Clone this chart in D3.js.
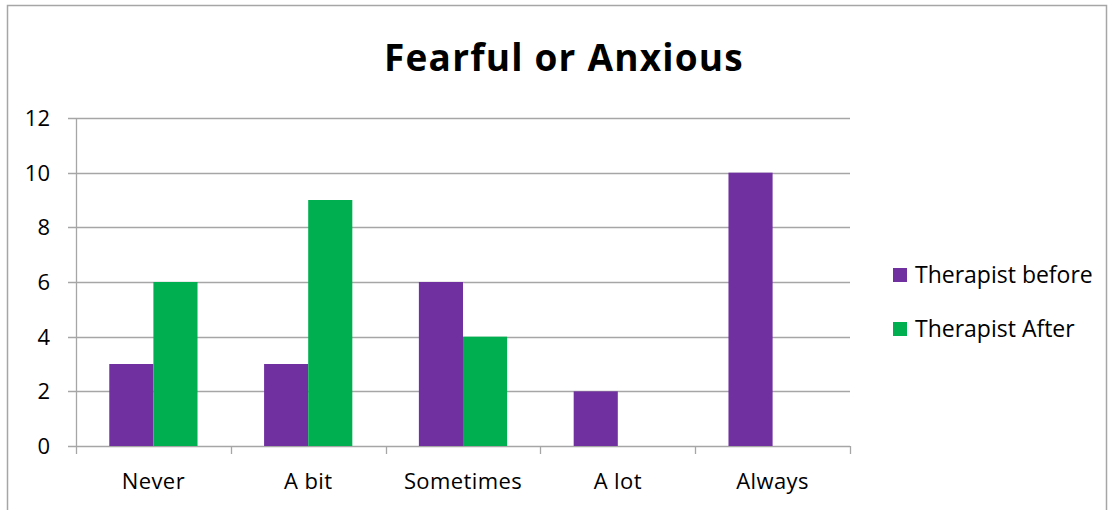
<!DOCTYPE html>
<html>
<head>
<meta charset="utf-8">
<script src="https://cdn.jsdelivr.net/npm/d3@7"></script>
<style>
  body { margin: 0; background: #fff; }
  svg text { font-family: "Open Sans", Lato, sans-serif; fill: #000; }
</style>
</head>
<body>
<div id="chart-area"></div>
<script>
// SVG Size
var width = 1108,
	height = 510;

// data
var categories = ["Never", "A bit", "Sometimes", "A lot", "Always"];
var seriesNames = ["Therapist before", "Therapist After"];
var before = [3, 3, 6, 2, 10];
var after = [6, 9, 4, 0, 0];
var yTicks = [0, 2, 4, 6, 8, 10, 12];
var colors = ["#7030A0", "#00B050"];

var margin = {left: 76, right: 258, top: 118, bottom: 64};

var svg = d3.select('#chart-area')
	.append("svg")
	.attr("width", width)
	.attr("height", height);

// outer border
svg.append("rect")
	.attr("x", 7.5).attr("y", 5.5)
	.attr("width", width - 9).attr("height", height)
	.attr("fill", "none")
	.attr("stroke", "#a6a6a6")
	.attr("stroke-width", 1.5);

var x = d3.scaleBand()
	.domain(categories)
	.range([margin.left, width - margin.right])
	.paddingInner(0.43)
	.paddingOuter(0.215);

var x1 = d3.scaleBand()
	.domain(seriesNames)
	.range([0, x.bandwidth()]);

var y = d3.scaleLinear()
	.domain([0, 12])
	.range([height - margin.bottom, margin.top]);

// gridlines
svg.append("g")
	.selectAll("line")
	.data(yTicks)
	.enter()
	.append("line")
	.attr("x1", margin.left - 8)
	.attr("x2", width - margin.right)
	.attr("y1", function(d){ return Math.round(y(d)) + 0.5; })
	.attr("y2", function(d){ return Math.round(y(d)) + 0.5; })
	.attr("stroke", "#a6a6a6")
	.attr("stroke-width", 1.3);

// y axis line
svg.append("line")
	.attr("x1", margin.left + 0.5).attr("x2", margin.left + 0.5)
	.attr("y1", y(12)).attr("y2", y(0))
	.attr("stroke", "#a6a6a6")
	.attr("stroke-width", 1.3);

// category ticks below axis
var step = (width - margin.right - margin.left) / categories.length;
svg.append("g")
	.selectAll("line")
	.data(d3.range(categories.length + 1))
	.enter()
	.append("line")
	.attr("x1", function(i){ return Math.round(margin.left + i * step) + 0.5; })
	.attr("x2", function(i){ return Math.round(margin.left + i * step) + 0.5; })
	.attr("y1", y(0))
	.attr("y2", y(0) + 8)
	.attr("stroke", "#a6a6a6")
	.attr("stroke-width", 1.3);

// y labels
svg.append("g")
	.selectAll("text")
	.data(yTicks)
	.enter()
	.append("text")
	.attr("x", 50)
	.attr("y", function(d){ return y(d) + 8; })
	.attr("text-anchor", "end")
	.style("font-size", "22px")
	.text(function(d){ return d; });

// bars
var groups = svg.append("g")
	.selectAll("g")
	.data(categories)
	.enter()
	.append("g")
	.attr("transform", function(d){ return "translate(" + x(d) + ",0)"; });

groups.selectAll("rect")
	.data(function(d, i){ return [before[i], after[i]]; })
	.enter()
	.append("rect")
	.attr("x", function(d, j){ return x1(seriesNames[j]); })
	.attr("width", x1.bandwidth())
	.attr("y", function(d){ return y(d); })
	.attr("height", function(d){ return y(0) - y(d); })
	.attr("fill", function(d, j){ return colors[j]; });

// x labels
svg.append("g")
	.selectAll("text")
	.data(categories)
	.enter()
	.append("text")
	.attr("x", function(d){ return x(d) + x.bandwidth() / 2; })
	.attr("y", 489)
	.attr("text-anchor", "middle")
	.style("font-size", "22px")
	.style("letter-spacing", "0.4px")
	.text(function(d){ return d; });

// title
svg.append("text")
	.attr("x", 564)
	.attr("y", 71)
	.attr("text-anchor", "middle")
	.style("font-size", "37px")
	.style("font-weight", "bold")
	.style("letter-spacing", "1.2px")
	.text("Fearful or Anxious");

// legend
var legend = svg.append("g")
	.selectAll("g")
	.data(seriesNames)
	.enter()
	.append("g")
	.attr("transform", function(d, i){ return "translate(893," + (268 + i * 54) + ")"; });

legend.append("rect")
	.attr("width", 14).attr("height", 14)
	.attr("fill", function(d, i){ return colors[i]; });

legend.append("text")
	.attr("x", 22)
	.attr("y", 15)
	.style("font-size", "23px")
	.text(function(d){ return d; });
</script>
</body>
</html>
